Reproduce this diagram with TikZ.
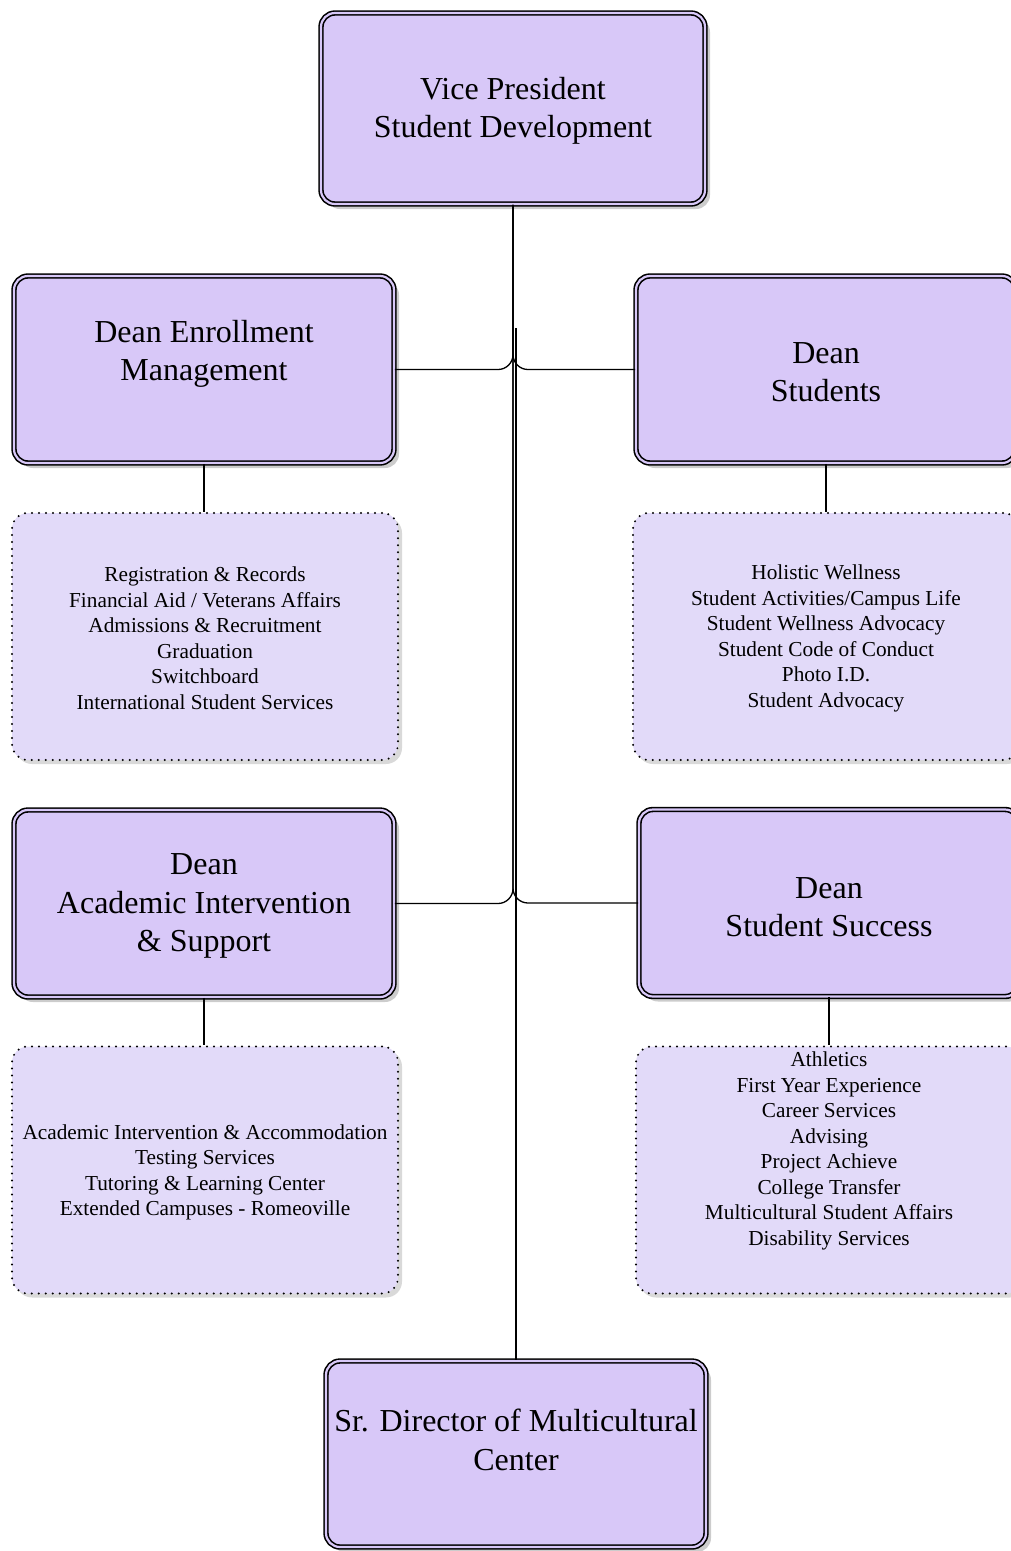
\documentclass[tikz,border=0pt]{standalone}
\usepackage{fontspec}
\setmainfont{Liberation Serif}
\usetikzlibrary{shadows}
\definecolor{boxfill}{RGB}{216,200,248}
\definecolor{listfill}{RGB}{226,218,249}
\begin{document}
\begin{tikzpicture}[x=1pt,y=-1pt,
  deanbox/.style={draw=black, rounded corners=14pt, line width=1.6pt,
    double=boxfill, double distance=2.2pt, fill=boxfill, inner sep=0pt,
    minimum width=380pt, minimum height=187pt,
    drop shadow={shadow xshift=5pt, shadow yshift=-5pt, fill=black, opacity=0.2}},
  listbox/.style={draw=black, rounded corners=16pt, line width=2.2pt,
    dash pattern=on 0pt off 7pt, line cap=round, fill=listfill, inner sep=0pt,
    minimum width=386pt, minimum height=247pt,
    drop shadow={shadow xshift=4pt, shadow yshift=-4pt, fill=black, opacity=0.15}},
  titletext/.style={font=\fontsize{32}{38.5}\selectfont, align=center, inner sep=0pt},
  listtext/.style={font=\fontsize{21.3}{25.5}\selectfont, align=center, inner sep=0pt},
  conn/.style={draw=black, line width=1.3pt, rounded corners=15pt}
]
\useasboundingbox (0,0) rectangle (1011,1551);
\clip (0,0) rectangle (1011,1551);

% leader boxes
\node[deanbox, minimum width=384pt, minimum height=191pt] (vp) at (513,108.5) {};
\node[deanbox] (dem) at (204,369.5) {};
\node[deanbox] (dst) at (826,369.5) {};
\node[deanbox] (dai) at (204,903.5) {};
\node[deanbox] (dss) at (829,903) {};
\node[deanbox, minimum height=186pt] (sr) at (516,1454) {};

% unit boxes
\node[listbox] (lem) at (205,636.5) {};
\node[listbox] (lst) at (826,636.5) {};
\node[listbox] (lai) at (205,1170) {};
\node[listbox] (lss) at (829,1170) {};

% connectors from the vice president
\draw[conn] (vp.south) |- (dem.east);
\draw[conn] (vp.south) |- (dst.west);
\draw[conn] (vp.south) |- (dai.east);
\draw[conn] (vp.south) |- (dss.west);
\coordinate (tap) at (516,328);
\draw[conn] (tap) -- (sr.north);

% connectors from deans to their units
\draw[conn] (dem.south) -- (dem.south |- lem.north);
\draw[conn] (dst.south) -- (dst.south |- lst.north);
\draw[conn] (dai.south) -- (dai.south |- lai.north);
\draw[conn] (dss.south) -- (dss.south |- lss.north);

% titles
\node[titletext] (vp-t) at (513,111) {Vice President\\Student Development};
\node[titletext] (dem-t) at (204,354) {Dean Enrollment\\Management};
\node[titletext] (dst-t) at (826,372) {Dean\\Students};
\node[titletext] (dai-t) at (204,906) {Dean\\Academic Intervention\\\& Support};
\node[titletext] (dss-t) at (829,907) {Dean\\Student Success};
\node[titletext] (sr-t) at (516,1440) {Sr. Director of Multicultural\\Center};

% unit lists
\node[listtext] (lem-t) at (205,638) {Registration \& Records\\Financial Aid / Veterans Affairs\\Admissions \& Recruitment\\Graduation\\Switchboard\\International Student Services};
\node[listtext] (lst-t) at (826,638.5) {Holistic Wellness\\Student Activities/Campus Life\\Student Wellness Advocacy\\Student Code of Conduct\\Photo I.D.\\Student Advocacy};
\node[listtext] (lai-t) at (205,1172.5) {Academic Intervention \& Accommodation\\Testing Services\\Tutoring \& Learning Center\\Extended Campuses - Romeoville};
\node[listtext] (lss-t) at (829,1151) {Athletics\\First Year Experience\\Career Services\\Advising\\Project Achieve\\College Transfer\\Multicultural Student Affairs\\Disability Services};
\end{tikzpicture}
\end{document}
